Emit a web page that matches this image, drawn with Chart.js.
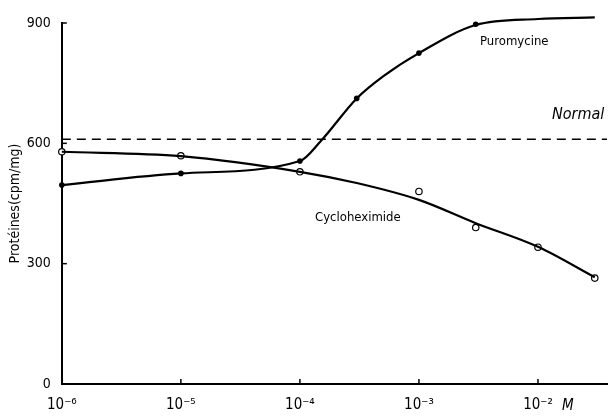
<!DOCTYPE html>
<html>
<head>
<meta charset="utf-8">
<script src="https://cdn.jsdelivr.net/npm/chart.js@4/dist/chart.umd.min.js"></script>
<style>
    html, body { margin: 0; padding: 0; background: #fff; }
    #wrap { width: 609px; height: 418px; position: relative; }
</style>
</head>
<body>
<div id="wrap"><canvas id="chart"></canvas></div>
<script>
// concentrations (M) and measured points
const puroX = [1e-6, 1e-5, 1e-4, 3e-4, 1e-3, 3e-3, 1e-2, 3e-2];
const puroY = [496, 525, 556, 712, 825, 897, 910, 914];

const cycloX = [1e-6, 1e-5, 1e-4, 1e-3, 3e-3, 1e-2, 3e-2];
const cycloY = [579, 569, 529, 480, 390, 341, 264];

// hand-drawn curves
const puroCurveX = [1e-6, 1e-5, 1e-4, 1.5e-4, 3e-4, 5e-4, 1e-3, 3e-3, 1e-2, 3e-2];
const puroCurveY = [496, 525, 556, 606, 712, 767, 825, 895, 910, 914];
const cycloCurveX = [1e-6, 1e-5, 1e-4, 3e-4, 1e-3, 3e-3, 1e-2, 3e-2];
const cycloCurveY = [579, 568, 529, 501, 459, 401, 342, 266];

const normalX = [1e-6, 0.038];
const normalY = [610, 610];

const xTicks = [1e-6, 1e-5, 1e-4, 1e-3, 1e-2];
const xTickLabels = ['10⁻⁶', '10⁻⁵', '10⁻⁴', '10⁻³', '10⁻²'];
const yTicks = [0, 300, 600, 900];

const FONT = '"DejaVu Sans Condensed", "Liberation Sans Narrow", sans-serif';

const pts = (xs, ys) => xs.map((x, i) => ({ x: x, y: ys[i] }));

// inner ticks, the "M" unit and curve labels
const annotations = {
    id: 'annotations',
    afterDraw(chart) {
        const ctx = chart.ctx;
        const xs = chart.scales.x, ys = chart.scales.y;
        ctx.save();
        ctx.strokeStyle = '#000';
        ctx.lineWidth = 1.5;
        xTicks.forEach(v => {
            const px = xs.getPixelForValue(v);
            ctx.beginPath();
            ctx.moveTo(px, ys.bottom);
            ctx.lineTo(px, ys.bottom - 5);
            ctx.stroke();
        });
        yTicks.forEach(v => {
            const py = ys.getPixelForValue(v);
            ctx.beginPath();
            ctx.moveTo(xs.left, py);
            ctx.lineTo(xs.left + 5, py);
            ctx.stroke();
        });
        ctx.fillStyle = '#000';
        ctx.textBaseline = 'middle';
        ctx.font = '13px ' + FONT;
        ctx.fillText('Puromycine', 480, 42);
        ctx.fillText('Cycloheximide', 315, 218);
        ctx.font = 'italic 16px ' + FONT;
        ctx.fillText('Normal', 552, 115);
        ctx.font = 'italic 15px ' + FONT;
        ctx.fillText('M', 562, 406);
        ctx.restore();
    }
};

const curveStyle = {
    borderColor: '#000',
    borderWidth: 2.2,
    pointRadius: 0,
    cubicInterpolationMode: 'monotone',
    clip: false
};

new Chart(document.getElementById('chart'), {
    type: 'line',
    data: {
        datasets: [
            { label: 'Puromycine curve', data: pts(puroCurveX, puroCurveY), ...curveStyle },
            { label: 'Cycloheximide curve', data: pts(cycloCurveX, cycloCurveY), ...curveStyle },
            {
                label: 'Puromycine',
                data: pts(puroX, puroY),
                showLine: false,
                pointRadius: 2.8,
                pointBorderWidth: 0,
                pointBackgroundColor: '#000',
                clip: false
            },
            {
                label: 'Cycloheximide',
                data: pts(cycloX, cycloY),
                showLine: false,
                pointRadius: 3.2,
                pointBorderWidth: 1.2,
                pointBorderColor: '#000',
                pointBackgroundColor: '#fff',
                clip: false
            },
            {
                label: 'Normal',
                data: pts(normalX, normalY),
                borderColor: '#000',
                borderWidth: 1.6,
                borderDash: [9, 6],
                pointRadius: 0,
                clip: false
            }
        ]
    },
    options: {
        responsive: true,
        maintainAspectRatio: false,
        animation: false,
        layout: { autoPadding: false, padding: { top: 23, right: 2, left: 7, bottom: 0 } },
        plugins: {
            legend: { display: false },
            tooltip: { enabled: false }
        },
        scales: {
            x: {
                type: 'logarithmic',
                min: 1e-6,
                max: 0.038,
                afterBuildTicks: (scale) => {
                    scale.ticks = xTicks.map(v => ({ value: v }));
                },
                ticks: {
                    color: '#000',
                    font: { family: FONT, size: 15 },
                    maxRotation: 0,
                    autoSkip: false,
                    padding: 4,
                    callback: (v) => xTickLabels[xTicks.indexOf(v)] ?? ''
                },
                grid: { display: false },
                border: { color: '#000', width: 2 }
            },
            y: {
                min: 0,
                max: 900,
                afterBuildTicks: (scale) => {
                    scale.ticks = yTicks.map(v => ({ value: v }));
                },
                ticks: {
                    color: '#000',
                    font: { family: FONT, size: 14 },
                    padding: 3
                },
                title: {
                    display: true,
                    text: 'Protéines(cpm/mg)',
                    color: '#000',
                    font: { family: FONT, size: 14 },
                    padding: { top: 0, bottom: 0 }
                },
                grid: { display: false },
                border: { color: '#000', width: 2 }
            }
        }
    },
    plugins: [annotations]
});
</script>
</body>
</html>
